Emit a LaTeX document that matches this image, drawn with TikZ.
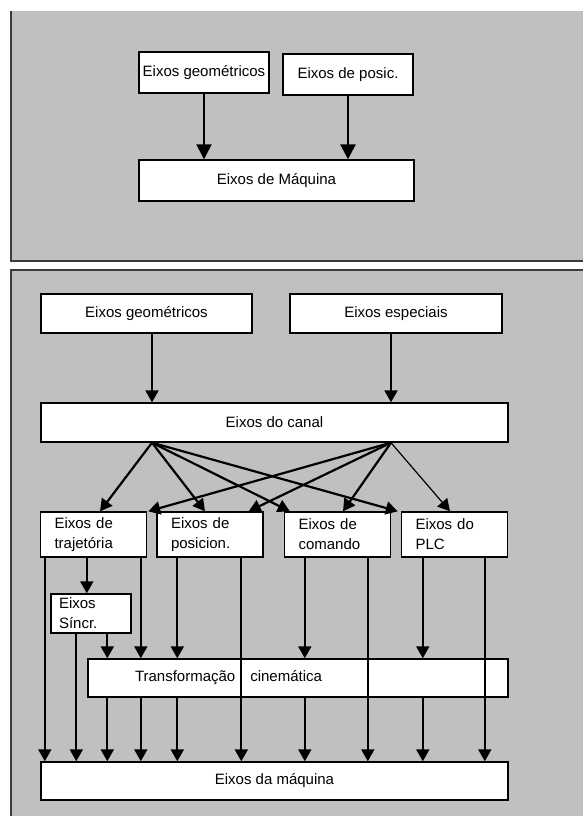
\documentclass[tikz,border=0pt]{standalone}
\usepackage{fontspec}
\setmainfont{Liberation Sans}
\usetikzlibrary{arrows.meta}
\definecolor{panelgray}{RGB}{192,192,192}
\definecolor{rimgray}{RGB}{60,60,60}
\tikzset{
  box/.style={draw, fill=white, line width=1.4pt, inner sep=0pt, font=\fontsize{15}{20}\selectfont},
  rowbox/.style={box, minimum height=45, text width=78, inner xsep=14, align=left},
  arr/.style={line width=2pt, -{Triangle[length=12pt,width=13pt]}},
  thinarr/.style={arr, line width=1.2pt},
  bigarr/.style={line width=2pt, -{Triangle[length=15pt,width=15pt]}}
}
\begin{document}
\begin{tikzpicture}[x=1pt,y=1pt]
\useasboundingbox (0,0) rectangle (583,-816);
% panels
\fill[panelgray] (11,-11) rectangle (583,-261);
\draw[rimgray, line width=1.5pt] (11,-11) -- (11,-261) -- (583,-261);
\fill[panelgray] (11,-270) rectangle (583,-816);
\draw[rimgray, line width=1.5pt] (11,-816) -- (11,-270) -- (583,-270);

% upper panel
\node[box, minimum width=130, minimum height=41] (geoA) at (204,-72.5) {Eixos geométricos};
\node[box, minimum width=130, minimum height=41] (posA) at (348,-74.5) {Eixos de posic.};
\node[box, minimum width=275, minimum height=41] (maqA) at (276.5,-180.5) {Eixos de Máquina};
\draw[bigarr] (geoA.south) -- (geoA.south |- maqA.north);
\draw[bigarr, line width=2.8pt] (posA.south) -- (posA.south |- maqA.north);

% lower panel
\node[box, minimum width=211, minimum height=39] (geoB) at (146.5,-313.5) {Eixos geométricos};
\node[box, minimum width=212, minimum height=39] (espB) at (396,-313.5) {Eixos especiais};
\node[box, minimum width=467, minimum height=39] (canal) at (274.5,-422.5) {Eixos do canal};
\node[rowbox] (traj) at (93.5,-534.5) {Eixos de\\trajetória};
\node[rowbox] (posic) at (210,-534.5) {Eixos de\\posicion.};
\node[rowbox] (coman) at (337.5,-534.5) {Eixos de\\comando};
\node[rowbox] (plc) at (454.5,-534.5) {Eixos do\\PLC};
\node[box, minimum height=39, text width=64, inner xsep=8, align=left] (sinc) at (91,-613.5) {Eixos\\Síncr.};
\node[box, minimum height=38, text width=326, inner xsep=47, align=left] (trans) at (298,-678) {Transformação\hspace{15pt}cinemática};
\node[box, minimum width=467, minimum height=38] (maq) at (274.5,-781) {Eixos da máquina};

% into the channel axes
\path (geoB.south) ++(5.5,0) coordinate (gB);
\path (espB.south) ++(-5,0) coordinate (eB);
\draw[arr] (gB) -- (gB |- canal.north);
\draw[arr] (eB) -- (eB |- canal.north);
\coordinate (fl) at (gB |- canal.south);
\coordinate (fr) at (eB |- canal.south);

% crossing arrows
\path (traj.north) ++(6.5,0) coordinate (t1);
\path (posic.north) ++(-5,0) coordinate (t2);
\path (coman.north west) ++(6,0) coordinate (t3);
\path (plc.north west) ++(-3,0) coordinate (t4);
\path (traj.north east) ++(1,0) coordinate (u1);
\path (posic.north east) ++(-15,0) coordinate (u2);
\path (coman.north) ++(5.5,0) coordinate (u3);
\path (plc.north) ++(-4.5,0) coordinate (u4);
\foreach \t in {t1,t2,t3,t4}
  \draw[arr, line width=2.2pt] (fl) -- (\t);
\foreach \u in {u1,u2,u3}
  \draw[arr, line width=2.2pt] (fr) -- (\u);
\draw[thinarr] (fr) -- (u4);

% down to the machine axes
\foreach \n/\dx/\c in {traj/5/v1, traj/47/v2, traj/101/v3, posic/21/v4, posic/85/v5, coman/21/v6, coman/84/v7, plc/22/v8, plc/84/v9, sinc/26/v10, sinc/57/v11}
  \path (\n.south west) ++(\dx,0) coordinate (\c);
\draw[arr] (v2) -- (v2 |- sinc.north);
\foreach \c in {v1,v5,v7,v9,v10}
  \draw[arr] (\c) -- (\c |- maq.north);
\foreach \c in {v3,v4,v6,v8,v11}{
  \draw[arr] (\c) -- (\c |- trans.north);
  \draw[arr] (\c |- trans.south) -- (\c |- maq.north);
}
\end{tikzpicture}
\end{document}
